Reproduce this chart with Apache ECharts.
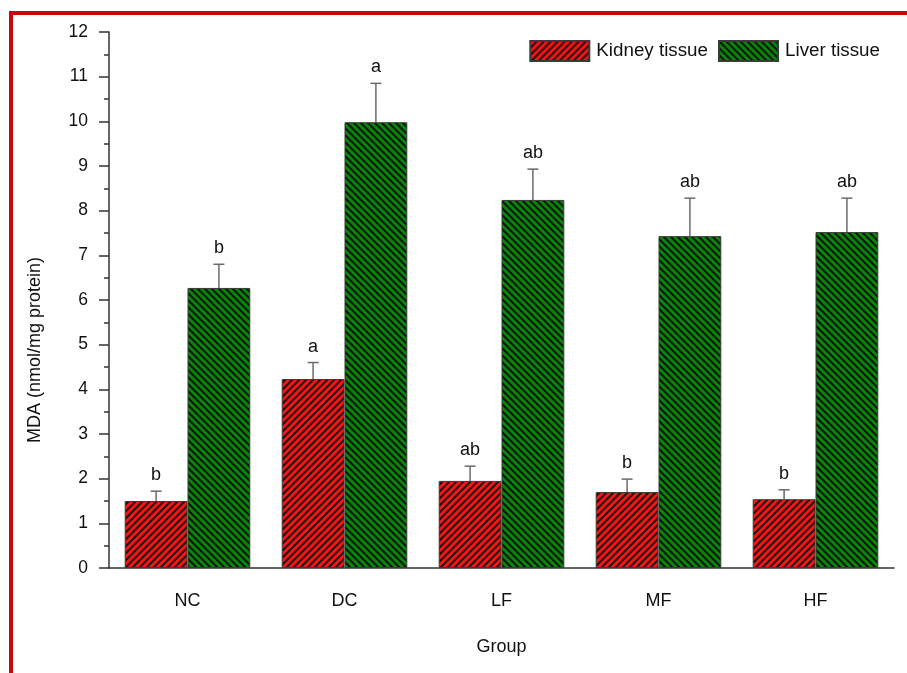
<!DOCTYPE html>
<html>
<head>
<meta charset="utf-8">
<script src="https://cdn.jsdelivr.net/npm/echarts@6/dist/echarts.min.js"></script>
<style>
  html, body { margin: 0; padding: 0; background: #fff; }
  #chart { width: 907px; height: 673px; }
</style>
</head>
<body>
<div id="chart"></div>
<script>
// Groups and measured MDA values (mean and upper error)
const categories = ['NC', 'DC', 'LF', 'MF', 'HF'];
const kidneyMean = [1.50, 4.23, 1.95, 1.70, 1.54];
const kidneyErr = [0.22, 0.37, 0.33, 0.29, 0.21];
const kidneyLetters = ['b', 'a', 'ab', 'b', 'b'];
const liverMean = [6.27, 9.98, 8.24, 7.43, 7.52];
const liverErr = [0.53, 0.87, 0.69, 0.85, 0.76];
const liverLetters = ['b', 'a', 'ab', 'ab', 'ab'];
const yTicks = [0, 1, 2, 3, 4, 5, 6, 7, 8, 9, 10, 11, 12];

const FONT = '"Liberation Sans", Arial, sans-serif';
const RED = '#fb1414';
const GREEN = '#0a860a';

// Diagonal hatch tile used as bar fill
function hatch(bg, dir) {
  const s = 7;
  const c = document.createElement('canvas');
  c.width = s; c.height = s;
  const ctx = c.getContext('2d');
  ctx.fillStyle = bg;
  ctx.fillRect(0, 0, s, s);
  ctx.strokeStyle = 'rgba(10,10,10,0.88)';
  ctx.lineWidth = 2.1;
  ctx.beginPath();
  if (dir === '/') {
    ctx.moveTo(-1, s + 1); ctx.lineTo(s + 1, -1);
    ctx.moveTo(-3, 3); ctx.lineTo(3, -3);
    ctx.moveTo(s - 3, s + 3); ctx.lineTo(s + 3, s - 3);
  } else {
    ctx.moveTo(-1, -1); ctx.lineTo(s + 1, s + 1);
    ctx.moveTo(-3, s - 3); ctx.lineTo(3, s + 3);
    ctx.moveTo(s - 3, -3); ctx.lineTo(s + 3, 3);
  }
  ctx.stroke();
  return { image: c, repeat: 'repeat' };
}

const kidneyFill = hatch(RED, '/');
const liverFill = hatch(GREEN, '\\');

const chart = echarts.init(document.getElementById('chart'), null, { renderer: 'canvas' });

// Error whisker with cap and significance letter above it
function errorRenderer(means, errs, letters, side) {
  return function (params, api) {
    const i = api.value(0);
    const m = means[i];
    const e = errs[i];
    const center = api.coord([i, m]);
    const bandW = api.size([1, 0])[0];
    const barW = bandW * 0.8 / 2;
    const x = center[0] + side * barW / 2;
    const yBase = center[1];
    const yTop = api.coord([i, m + e])[1];
    const cap = 5.5;
    const lineStyle = { stroke: '#6a6a6a', lineWidth: 1.5 };
    return {
      type: 'group',
      children: [
        { type: 'line', shape: { x1: x, y1: yBase, x2: x, y2: yTop }, style: lineStyle },
        { type: 'line', shape: { x1: x - cap, y1: yTop, x2: x + cap, y2: yTop }, style: lineStyle },
        {
          type: 'text',
          style: {
            text: letters[i], x: x, y: yTop - 7,
            align: 'center', verticalAlign: 'bottom',
            fill: '#111', font: '18px ' + FONT
          }
        }
      ]
    };
  };
}

const option = {
  animation: false,
  backgroundColor: '#fff',
  textStyle: { fontFamily: FONT },
  grid: { left: 109, right: 13, top: 32, bottom: 105, containLabel: false },
  legend: {
    right: 22, top: 35,
    icon: 'rect',
    itemWidth: 59, itemHeight: 20, itemGap: 10,
    textStyle: { fontSize: 18.8, color: '#111', fontFamily: FONT, padding: [0, 0, 0, 2] },
    data: ['Kidney tissue', 'Liver tissue']
  },
  xAxis: [
    {
      type: 'category',
      data: categories,
      name: 'Group',
      nameLocation: 'middle',
      nameGap: 70,
      nameTextStyle: { fontSize: 18, color: '#111', fontFamily: FONT },
      axisLine: { lineStyle: { color: '#333', width: 1.5 } },
      axisTick: { alignWithLabel: true, length: 9, lineStyle: { color: '#333', width: 1.5 } },
      axisLabel: { fontSize: 18, color: '#111', margin: 24, fontFamily: FONT }
    },
    {
      type: 'category',
      data: categories,
      position: 'bottom',
      axisLine: { show: false },
      axisTick: { length: 5, lineStyle: { color: '#333', width: 1.5 } },
      axisLabel: { show: false }
    }
  ],
  yAxis: {
    type: 'value',
    min: yTicks[0],
    max: yTicks[yTicks.length - 1],
    interval: 1,
    splitLine: { show: false },
    axisLine: { show: true, lineStyle: { color: '#333', width: 1.5 } },
    axisTick: { show: true, length: 10, lineStyle: { color: '#333', width: 1.5 } },
    minorTick: { show: true, splitNumber: 2, length: 5, lineStyle: { color: '#333', width: 1.5 } },
    axisLabel: { fontSize: 17.5, color: '#111', margin: 21, fontFamily: FONT }
  },
  series: [
    {
      name: 'Kidney tissue',
      type: 'bar',
      data: kidneyMean,
      barGap: '0%',
      barCategoryGap: '20%',
      itemStyle: { color: kidneyFill, borderColor: '#3a3a3a', borderWidth: 1 }
    },
    {
      name: 'Liver tissue',
      type: 'bar',
      data: liverMean,
      barGap: '0%',
      barCategoryGap: '20%',
      itemStyle: { color: liverFill, borderColor: '#3a3a3a', borderWidth: 1 }
    },
    {
      type: 'custom',
      renderItem: errorRenderer(kidneyMean, kidneyErr, kidneyLetters, -1),
      data: categories.map((c, i) => [i]),
      z: 5, silent: true
    },
    {
      type: 'custom',
      renderItem: errorRenderer(liverMean, liverErr, liverLetters, 1),
      data: categories.map((c, i) => [i]),
      z: 5, silent: true
    }
  ],
  graphic: [
    // frame lines at the top and left edge
    { type: 'rect', shape: { x: 9, y: 11, width: 898, height: 4 }, style: { fill: '#c8060b' }, z: 10 },
    { type: 'rect', shape: { x: 9, y: 11, width: 4, height: 662 }, style: { fill: '#c8060b' }, z: 10 },
    {
      type: 'text', x: 35, y: 350, rotation: Math.PI / 2,
      style: {
        text: 'MDA (nmol/mg protein)', align: 'center', verticalAlign: 'middle',
        fill: '#111', font: '18px ' + FONT
      }
    }
  ]
};

chart.setOption(option);
</script>
</body>
</html>
